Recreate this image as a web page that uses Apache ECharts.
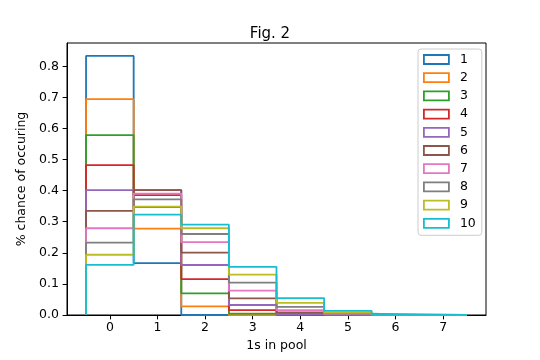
<!DOCTYPE html>
<html>
<head>
<meta charset="utf-8">
<script src="https://cdn.jsdelivr.net/npm/echarts@6/dist/echarts.min.js"></script>
<style>html,body{margin:0;padding:0;background:#fff}#c{width:540px;height:360px}</style>
</head>
<body>
<div id="c"></div>
<script>
// bins: number of 1s in the pool
const bins = [0, 1, 2, 3, 4, 5, 6, 7];
// probability per bin, for pool sizes 1..10
const pool1  = [0.8333, 0.1667, 0, 0, 0, 0, 0, 0];
const pool2  = [0.6944, 0.2778, 0.0278, 0, 0, 0, 0, 0];
const pool3  = [0.5787, 0.3472, 0.0694, 0.0046, 0, 0, 0, 0];
const pool4  = [0.4823, 0.3858, 0.1157, 0.0154, 0.0008, 0, 0, 0];
const pool5  = [0.4019, 0.4019, 0.1608, 0.0322, 0.0032, 0.0001, 0, 0];
const pool6  = [0.3349, 0.4019, 0.2009, 0.0536, 0.0080, 0.0006, 0.0000, 0];
const pool7  = [0.2791, 0.3907, 0.2344, 0.0781, 0.0156, 0.0019, 0.0001, 0.0000];
const pool8  = [0.2326, 0.3721, 0.2605, 0.1042, 0.0260, 0.0042, 0.0004, 0.0000];
const pool9  = [0.1938, 0.3489, 0.2791, 0.1302, 0.0391, 0.0078, 0.0010, 0.0001];
const pool10 = [0.1615, 0.3230, 0.2907, 0.1550, 0.0543, 0.0130, 0.0022, 0.0002];
const seriesNames = ['1', '2', '3', '4', '5', '6', '7', '8', '9', '10'];
const seriesValues = [pool1, pool2, pool3, pool4, pool5, pool6, pool7, pool8, pool9, pool10];
const yTicks = [0.0, 0.1, 0.2, 0.3, 0.4, 0.5, 0.6, 0.7, 0.8];

const colors = ['#1f77b4', '#ff7f0e', '#2ca02c', '#d62728', '#9467bd',
                '#8c564b', '#e377c2', '#7f7f7f', '#bcbd22', '#17becf'];
const FONT = 'DejaVu Sans';

function stepPath(vals) {
  const pts = [[bins[0] - 0.5, 0]];
  vals.forEach((v, i) => {
    pts.push([bins[i] - 0.5, v]);
    pts.push([bins[i] + 0.5, v]);
  });
  pts.push([bins[bins.length - 1] + 0.5, 0]);
  return pts;
}

const series = seriesValues.map((vals, i) => ({
  name: seriesNames[i],
  type: 'line',
  data: stepPath(vals),
  showSymbol: false,
  symbol: 'none',
  clip: false,
  lineStyle: { color: colors[i], width: 1.8 },
  itemStyle: { color: colors[i] },
  emphasis: { disabled: true }
}));

const chart = echarts.init(document.getElementById('c'), null, { renderer: 'canvas' });
chart.setOption({
  animation: false,
  color: colors,
  textStyle: { fontFamily: FONT },
  title: {
    text: 'Fig. 2',
    left: 'center',
    top: 22,
    textStyle: { fontFamily: FONT, fontSize: 15, fontWeight: 'normal', color: '#000' }
  },
  legend: {
    orient: 'vertical',
    left: 418,
    top: 49,
    padding: [3.5, 6, 5, 5],
    backgroundColor: '#fff',
    borderColor: '#cccccc',
    borderWidth: 1,
    borderRadius: 3,
    itemWidth: 25,
    itemHeight: 9,
    itemGap: 4.2,
    icon: 'rect',
    textStyle: { fontFamily: FONT, fontSize: 12.5, color: '#000', lineHeight: 14, padding: [0, 0, 0, 6] },
    data: seriesNames.map((n, i) => ({
      name: n,
      icon: 'rect',
      itemStyle: { color: 'rgba(0,0,0,0)', borderColor: colors[i], borderWidth: 1.8 }
    }))
  },
  grid: {
    left: 67, right: 54, top: 43, bottom: 45,
    show: true, borderColor: '#000', borderWidth: 1, backgroundColor: 'transparent'
  },
  xAxis: {
    type: 'value',
    min: -0.9,
    max: 7.9,
    name: '1s in pool',
    nameLocation: 'middle',
    nameGap: 24,
    nameTextStyle: { fontFamily: FONT, fontSize: 12.5, color: '#000' },
    axisLine: { show: true, onZero: false, lineStyle: { color: '#000', width: 1 } },
    axisTick: { show: true, inside: false, length: 4.4, customValues: bins, lineStyle: { color: '#000', width: 1 } },
    axisLabel: { customValues: bins, margin: 6, fontFamily: FONT, fontSize: 12.5, color: '#000', formatter: v => String(v) },
    splitLine: { show: false }
  },
  yAxis: {
    type: 'value',
    min: 0,
    max: 0.875,
    name: '% chance of occuring',
    nameLocation: 'middle',
    nameGap: 30,
    nameTextStyle: { fontFamily: FONT, fontSize: 12.5, color: '#000' },
    axisLine: { show: true, onZero: false, lineStyle: { color: '#000', width: 1 } },
    axisTick: { show: true, inside: false, length: 4.4, customValues: yTicks, lineStyle: { color: '#000', width: 1 } },
    axisLabel: { customValues: yTicks, margin: 8, fontFamily: FONT, fontSize: 12.5, color: '#000', formatter: v => v.toFixed(1) },
    splitLine: { show: false }
  },
  series: series
});
</script>
</body>
</html>
